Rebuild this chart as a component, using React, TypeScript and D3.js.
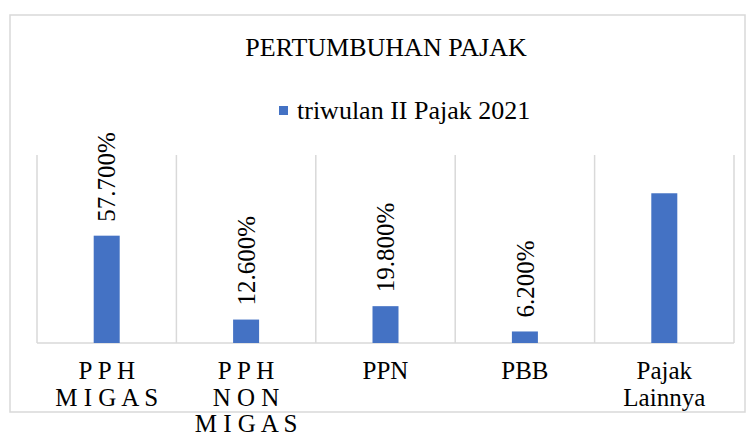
import React from 'react';
import * as d3 from 'd3';

const categories = ['PPH MIGAS', 'PPH NON MIGAS', 'PPN', 'PBB', 'Pajak Lainnya'];
const categoryLines = [['P P H', 'M I G A S'], ['P P H', 'N O N', 'M I G A S'], ['PPN'], ['PBB'], ['Pajak', 'Lainnya']];
const values = [57.7, 12.6, 19.8, 6.2, 80.5];
const valueLabels = ['57.700%', '12.600%', '19.800%', '6.200%', ''];
const seriesName = 'triwulan II Pajak 2021';
const title = 'PERTUMBUHAN PAJAK';

const W = 750;
const H = 439;
const font = 'Liberation Serif, Times New Roman, serif';

export default function App() {
  const x = d3.scaleBand().domain(categories).range([37, 734]).padding(0);
  const y = d3.scaleLinear().domain([0, 100]).range([343, 157]);
  const barW = 26;
  const grid = [...categories.map(c => x(c) as number), 734];

  return (
    <svg width={W} height={H} style={{ position: 'absolute', left: 0, top: 0, fontFamily: font }}>
      <rect x={10} y={15} width={735} height={397} fill="#fff" stroke="#d9d9d9" strokeWidth={1.5} />
      <text x={386} y={56} textAnchor="middle" fontSize={26} fill="#000">{title}</text>
      <rect x={279} y={106} width={9} height={9} fill="#4472c4" />
      <text x={297} y={119} fontSize={26} fill="#000">{seriesName}</text>

      {grid.map((gx, i) => (
        <line key={'g' + i} x1={gx} x2={gx} y1={155} y2={343} stroke="#d9d9d9" strokeWidth={1.5} />
      ))}
      <line x1={37} x2={734} y1={343} y2={343} stroke="#d9d9d9" strokeWidth={1.5} />

      {categories.map((c, i) => {
        const cx = (x(c) as number) + x.bandwidth() / 2;
        const top = y(values[i]);
        return (
          <g key={c}>
            <rect x={cx - barW / 2} y={top} width={barW} height={y(0) - top} fill="#4472c4" />
            {valueLabels[i] && (
              <text transform={`translate(${cx},${top - 14}) rotate(-90)`} dy="0.35em"
                fontSize={25} fill="#000">{valueLabels[i]}</text>
            )}
            {categoryLines[i].map((ln, j) => (
              <text key={j} x={cx} y={379 + j * 26.5} textAnchor="middle" fontSize={25} fill="#000">{ln}</text>
            ))}
          </g>
        );
      })}
    </svg>
  );
}
